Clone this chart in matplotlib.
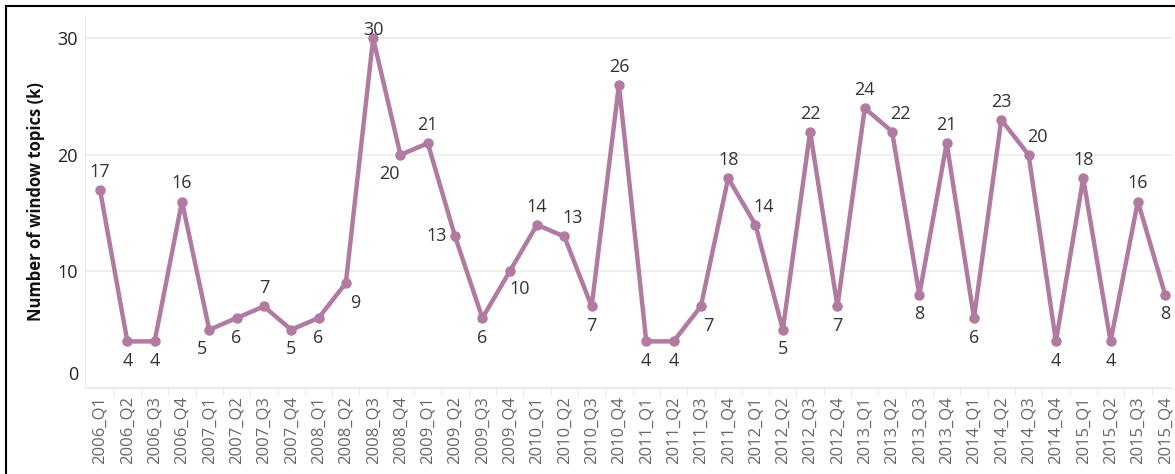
import numpy as np
import matplotlib.pyplot as plt
from matplotlib.lines import Line2D

# quarters and number of window topics
quarters = [f"{y}_Q{q}" for y in range(2006, 2016) for q in range(1, 5)]
topics = [17, 4, 4, 16, 5, 6, 7, 5, 6, 9,
          30, 20, 21, 13, 6, 10, 14, 13, 7, 26,
          4, 4, 7, 18, 14, 5, 22, 7, 24, 22,
          8, 21, 6, 23, 20, 4, 18, 4, 16, 8]

line_color = "#b07aa1"
label_color = "#333333"

plt.rcParams['font.family'] = ['Open Sans', 'DejaVu Sans']

fig = plt.figure(figsize=(11.75, 4.74), dpi=100)
ax = fig.add_axes([85 / 1175, 1 - 388 / 474, (1172 - 85) / 1175, (388 - 15) / 474])

x = np.arange(len(quarters))
ax.plot(x, topics, color=line_color, lw=3.2, marker='o', ms=6.5,
        solid_joinstyle='round', zorder=3)

# labels: above when the line goes down next, below when it goes up
nudge = {9: (7, -14), 10: (0, 6), 11: (-8, -14), 13: (-13, 0), 15: (7, -13),
         4: (-5, -14), 22: (5, -14)}
n = len(topics)
for i, v in enumerate(topics):
    prev = topics[i - 1] if i > 0 else -1
    nxt = topics[i + 1] if i < n - 1 else None
    if i in nudge:
        dx, dy = nudge[i]
    elif nxt is None:
        dx, dy = 0, -14
    elif v > nxt or (v == nxt and v > prev):
        peak = v >= prev
        dx, dy = (0 if peak else 6), 13
    else:
        dx, dy = 0, -14
    ax.annotate(str(v), (i, v), xytext=(dx, dy), textcoords='offset points',
                ha='center', va='center', fontsize=13, color=label_color)

ax.set_xlim(-0.55, n - 0.75)
ax.set_ylim(0, 32)
ax.set_yticks([0, 10, 20, 30])
ax.set_yticklabels(['', '10', '20', '30'], fontsize=13, color='#222222')
ax.tick_params(axis='y', length=0, pad=5)
# tableau lifts the zero label above the axis line
ax.annotate('0', (0, 0), xycoords=('axes fraction', 'data'), xytext=(-5, 9),
            textcoords='offset points', ha='right', va='center',
            fontsize=13, color='#222222')

ax.set_xticks(x)
ax.set_xticklabels(quarters, rotation=90, fontsize=12, color='#666666')
ax.set_xticks(x[:-1] + 0.5, minor=True)
ax.tick_params(axis='x', which='major', length=0, pad=6)
ax.tick_params(axis='x', which='minor', length=6, color='#e6e6e6')

ax.grid(axis='y', color='#ececec', lw=1.2)
ax.set_axisbelow(True)
for s in ['top', 'right']:
    ax.spines[s].set_visible(False)
ax.spines['left'].set_color('#ececec')
ax.spines['bottom'].set_color('#e6e6e6')

ax.set_ylabel('Number of window topics (k)', fontsize=12, fontweight='bold',
              color='#111111', labelpad=9)

# outer frame (left and top only)
fig.add_artist(Line2D([6 / 1175, 6 / 1175], [0, 1 - 6 / 474], transform=fig.transFigure,
                      color='black', lw=1.5))
fig.add_artist(Line2D([6 / 1175, 1], [1 - 6 / 474, 1 - 6 / 474], transform=fig.transFigure,
                      color='black', lw=1.5))

fig.savefig('out.png', dpi=100)
